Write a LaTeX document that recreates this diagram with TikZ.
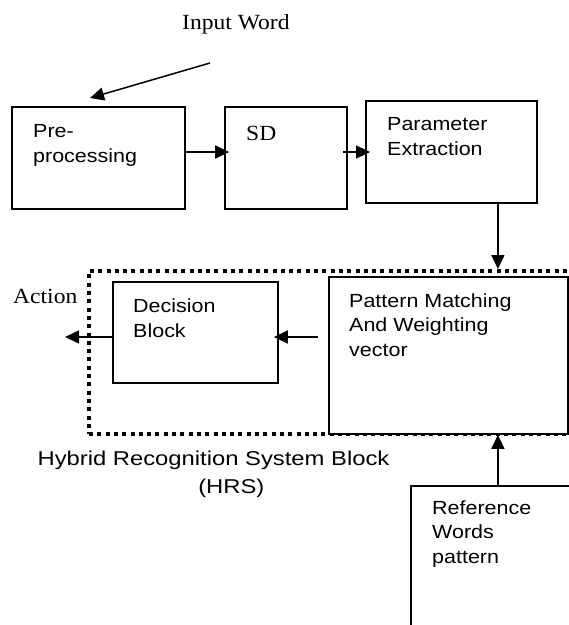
\documentclass[tikz,border=0pt]{standalone}
\usepackage{fontspec}
\setmainfont{Liberation Serif}
\newfontfamily\boxfont{Liberation Sans}
\usetikzlibrary{
		calc,
		positioning,
		arrows.meta
	}
\tikzset{
		>={Triangle[length=14pt,width=13pt]},
		blk/.style={draw, line width=1.8pt, inner sep=0pt},
		frame/.style={draw, line width=4pt, dash pattern=on 4pt off 4.3pt, inner sep=0pt},
		flow/.style={->, line width=1.5pt},
		btxt/.style={anchor=base west, align=left, inner sep=0pt, xscale=1.13,
			font=\boxfont\fontsize{19}{24.5}\selectfont},
		stxt/.style={anchor=base west, inner sep=0pt, xscale=1.09,
			font=\fontsize{21.6}{26}\selectfont}
	}

\begin{document}
\begin{tikzpicture}[x=1pt, y=-1pt] % (one unit = one pixel, y grows downwards)
		\useasboundingbox (0,0) rectangle (569,625);
		\clip (0,0) rectangle (569,625);
		% the blocks
		\node[blk, minimum width=173, minimum height=102] (pre) at (98.5,158) {};
		\node[blk, minimum width=122, minimum height=102] (sd) at (286,158) {};
		\node[blk, minimum width=171, minimum height=102] (param) at (451.5,152) {};
		\node[frame, minimum width=531, minimum height=163] (hrs) at (354.5,352.5) {};
		\node[blk, minimum width=165, minimum height=101] (dec) at (195.5,332.5) {};
		\node[blk, fill=white, minimum width=239, minimum height=157] (pat) at (448.5,355.5) {};
		\node[blk, minimum width=249, minimum height=234] (ref) at (535.5,603) {};
		% their texts (base = last line)
		\node[stxt] (inw) at (182,29) {Input Word};
		\node[btxt] (preTxt) at (33,162) {Pre-\\processing};
		\node[stxt] (sdTxt) at (246,140) {SD};
		\node[btxt] (paramTxt) at (387,155) {Parameter\\Extraction};
		\node[stxt] (act) at (13,303) {Action};
		\node[btxt] (decTxt) at (133,337) {Decision\\Block};
		\node[btxt] (patTxt) at (349,356) {Pattern Matching\\And Weighting\\vector};
		\node[btxt] (refTxt) at (432,563) {Reference\\Words\\pattern};
		\node[anchor=base, align=center, inner sep=0pt, xscale=1.19,
			font=\boxfont\fontsize{20}{28}\selectfont] (hrsTxt) at (213.5,493)
			{Hybrid Recognition System Block\\\hspace*{30pt}(HRS)};
		% connectors
		\coordinate (inTail) at (210,63);
		\coordinate (inTip) at (90,98);
		\coordinate (out) at (65,337);
		\coordinate (tap) at ([xshift=-40]param.south east);
		\draw[flow] (inTail) -- (inTip);
		\draw[flow] ([xshift=-2,yshift=6]pre.east) -- ([xshift=5,yshift=6]sd.west);
		\draw[flow] ([xshift=-5,yshift=6]sd.east) -- ([xshift=5]param.west);
		\draw[flow] (tap) -- (tap |- hrs.north);
		\draw[flow] ([xshift=-10,yshift=18.5]pat.west) -- ([xshift=-5,yshift=-4.5]dec.east);
		\draw[flow] ([yshift=-4.5]dec.west) -- (out);
		\draw[flow] (tap |- ref.north) -- (tap |- pat.south);
	\end{tikzpicture}
\end{document}
